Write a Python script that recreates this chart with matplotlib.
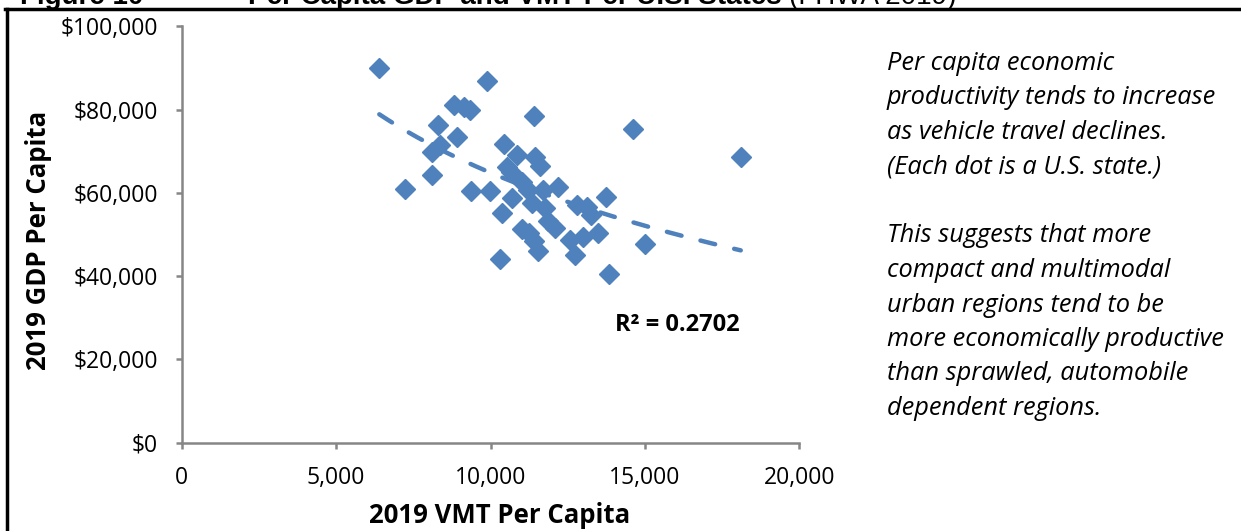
import numpy as np
import matplotlib.pyplot as plt
from matplotlib.lines import Line2D
from matplotlib.ticker import FuncFormatter

# 2019 VMT per capita and GDP per capita, one point per state
vmt = [6400, 9900, 8830, 9140, 9340, 11420, 8290, 14600, 8900, 8370,
       8100, 10440, 18100, 10850, 11440, 11600, 10520, 10660, 8120, 7230,
       9360, 9970, 11010, 11200, 11710, 12190, 10680, 11330, 11760, 12790,
       13110, 13240, 13750, 10360, 11860, 12090, 11020, 11250, 12570, 13000,
       13490, 11410, 11540, 12730, 15010, 10310, 13840]
gdp = [89970, 86920, 81150, 80670, 79950, 78510, 76330, 75370, 73530, 71520,
       69860, 71780, 68730, 69130, 68650, 66490, 66320, 65050, 64330, 60890,
       60560, 60480, 62720, 60720, 60720, 61440, 58680, 57530, 56400, 57000,
       56520, 54720, 59040, 55080, 53270, 51590, 51350, 50390, 48590, 49500,
       50270, 48470, 45950, 44980, 47750, 44020, 40540]
x_ticks = [0, 5000, 10000, 15000, 20000]
y_ticks = [0, 20000, 40000, 60000, 80000, 100000]
r2_label = 'R² = 0.2702'
note = ('Per capita economic\nproductivity tends to increase\nas vehicle travel declines.\n'
        '(Each dot is a U.S. state.)\n\nThis suggests that more\ncompact and multimodal\n'
        'urban regions tend to be\nmore economically productive\nthan sprawled, automobile\n'
        'dependent regions.')

blue = '#4F81BD'
grey = '#868686'
plt.rcParams['font.family'] = ['Open Sans', 'DejaVu Sans']

fig = plt.figure(figsize=(12.41, 5.31), dpi=100)
ax = fig.add_axes([0.1463, 0.1663, 0.4979, 0.7838])

ax.plot(vmt, gdp, linestyle='none', marker='D', ms=10, color=blue, mec=blue, zorder=3)

# logarithmic trend line over the data range
b, a = np.polyfit(np.log(vmt), gdp, 1)
xs = np.linspace(min(vmt), max(vmt), 200)
ax.plot(xs, a + b * np.log(xs), color=blue, lw=3.2, dashes=(3.4, 4.4),
        dash_capstyle='round', zorder=2)

ax.set_xlim(0, 20000)
ax.set_ylim(0, 100000)
ax.set_xticks(x_ticks)
ax.set_yticks(y_ticks)
ax.xaxis.set_major_formatter(FuncFormatter(lambda v, p: f'{v:,.0f}'))
ax.yaxis.set_major_formatter(FuncFormatter(lambda v, p: f'${v:,.0f}'))
for s in ['top', 'right']:
    ax.spines[s].set_visible(False)
for s in ['left', 'bottom']:
    ax.spines[s].set_color(grey)
    ax.spines[s].set_linewidth(1.8)
ax.tick_params(axis='both', direction='out', length=4, width=1.8, color=grey,
               labelsize=16.5, pad=13)

ax.set_xlabel('2019 VMT Per Capita', fontsize=18.5, fontweight='bold')
ax.set_ylabel('2019 GDP Per Capita', fontsize=18.5, fontweight='bold')
ax.xaxis.set_label_coords(0.514, -0.142)
ax.yaxis.set_label_coords(-0.21, 0.487)

ax.text(14030, 28200, r2_label, fontsize=17, fontweight='bold', va='center', ha='left')

fig.text(887 / 1241, 1 - 51 / 531, note, fontsize=18.3, style='italic', va='top',
         ha='left', linespacing=1.50)

# clipped caption at the very top of the page
t1 = fig.text(20 / 1241, 1 - 4 / 531, 'Figure 10', fontsize=20, fontweight='bold',
              family='Liberation Sans', va='baseline')
t2 = fig.text(248 / 1241, 1 - 4 / 531, 'Per Capita GDP and VMT Per U.S. States ',
              fontsize=20, fontweight='bold', family='Liberation Sans', va='baseline')
fig.canvas.draw()
bb = t2.get_window_extent()
fig.text(bb.x1 / 1241, 1 - 4 / 531, '(FHWA 2019)', fontsize=20,
         family='Liberation Sans', va='baseline')

# page frame lines
fig.add_artist(Line2D([5 / 1241, 1], [1 - 9 / 531, 1 - 9 / 531], color='black', lw=2.5))
fig.add_artist(Line2D([7 / 1241, 7 / 1241], [0, 1 - 9 / 531], color='black', lw=2.5))

fig.savefig('out.png', dpi=100)
